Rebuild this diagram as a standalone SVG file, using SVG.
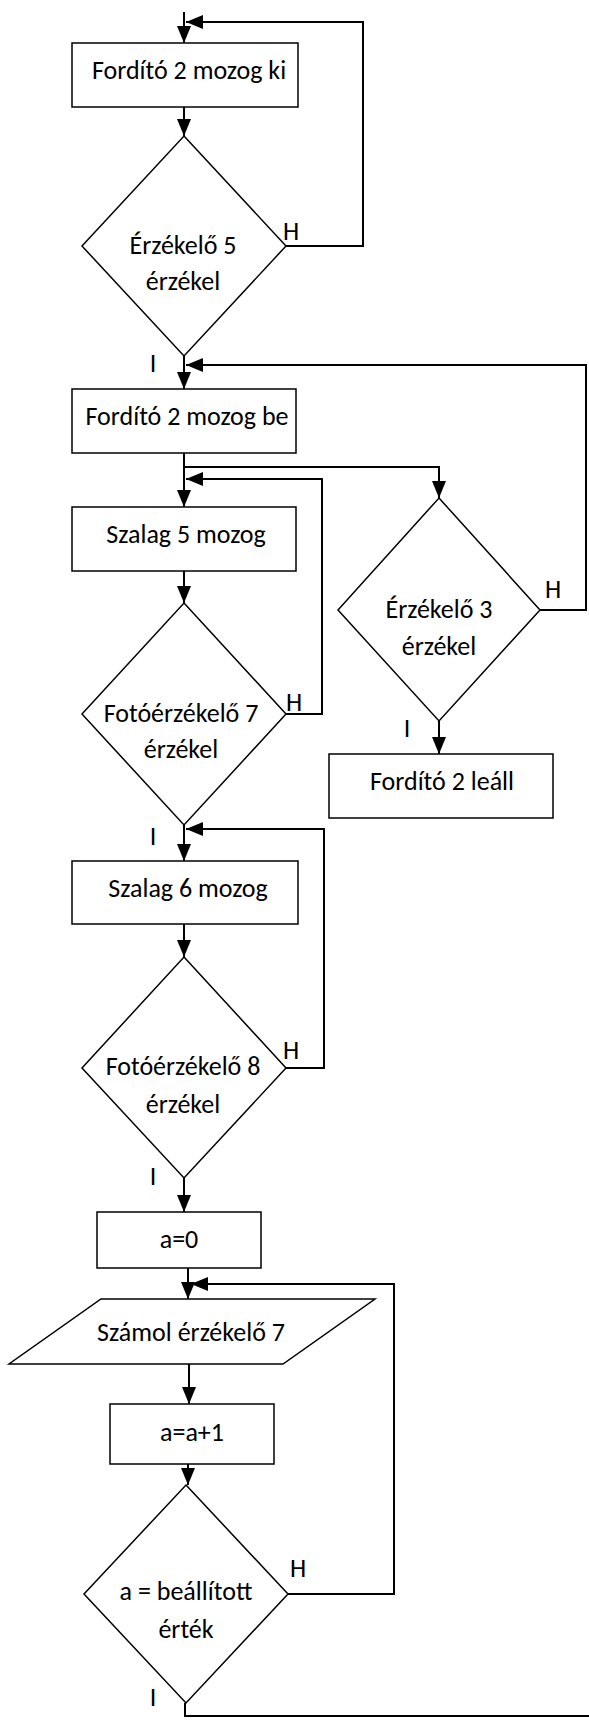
<svg xmlns="http://www.w3.org/2000/svg" width="589" height="1720" viewBox="0 0 589 1720">
<style>
.shape{fill:#fff;stroke:#000;stroke-width:1.5}
.conn{fill:none;stroke:#000;stroke-width:2;marker-end:url(#arr)}
.plain{fill:none;stroke:#000;stroke-width:2}
text{font-family:Carlito,Calibri,Lato,"Liberation Sans",sans-serif;font-size:26px;fill:#000}
.c{text-anchor:middle}
</style>
<defs>
<marker id="arr" viewBox="0 0 17 14" refX="17" refY="7" markerWidth="17" markerHeight="14" markerUnits="userSpaceOnUse" orient="auto">
<path d="M0,0 L17,7 L0,14 z" fill="#000"/>
</marker>
</defs>
<rect width="589" height="1720" fill="#fff"/>
<g id="connectors">
<path class="conn" d="M184,12 V43"/>
<path class="conn" d="M286,246 H363 V22 H186"/>
<path class="conn" d="M184,107 V136"/>
<path class="conn" d="M184,356 V389"/>
<path class="conn" d="M540,610 H586 V365 H186"/>
<path class="conn" d="M184,453 V507"/>
<path class="conn" d="M184,467 H439 V498"/>
<path class="conn" d="M286,714 H322 V479 H186"/>
<path class="conn" d="M184,571 V603"/>
<path class="conn" d="M184,825 V861"/>
<path class="conn" d="M439,721 V754"/>
<path class="conn" d="M286,1068 H324 V829 H186"/>
<path class="conn" d="M184,924 V957"/>
<path class="conn" d="M184,1178 V1212"/>
<path class="conn" d="M188,1268 V1299"/>
<path class="conn" d="M288,1594 H394 V1284 H191"/>
<path class="conn" d="M189,1364 V1404"/>
<path class="conn" d="M188,1464 V1485"/>
<path class="plain" d="M185,1703 V1716 H589"/>
</g>
<g id="n1"><rect class="shape" x="72" y="43" width="226" height="64"/><text class="c" x="189" y="79">Fordító 2 mozog ki</text></g>
<g id="d1"><polygon class="shape" points="184,136 286,246 184,356 82,246"/><text class="c" x="183" y="254">Érzékelő 5</text><text class="c" x="183" y="290">érzékel</text><text x="283" y="240">H</text><text class="c" x="153" y="372">I</text></g>
<g id="n2"><rect class="shape" x="72" y="389" width="224" height="64"/><text class="c" x="187" y="425">Fordító 2 mozog be</text></g>
<g id="n3"><rect class="shape" x="72" y="507" width="224" height="64"/><text class="c" x="186" y="543">Szalag 5 mozog</text></g>
<g id="d2"><polygon class="shape" points="184,603 286,714 184,825 82,714"/><text class="c" x="181" y="722">Fotóérzékelő 7</text><text class="c" x="181" y="758">érzékel</text><text x="286" y="711">H</text><text class="c" x="153" y="845">I</text></g>
<g id="d3"><polygon class="shape" points="439,498 540,610 439,721 338,610"/><text class="c" x="439" y="618">Érzékelő 3</text><text class="c" x="439" y="655">érzékel</text><text x="545" y="598">H</text><text class="c" x="407" y="737">I</text></g>
<g id="n4"><rect class="shape" x="329" y="754" width="224" height="64"/><text class="c" x="442" y="790">Fordító 2 leáll</text></g>
<g id="n5"><rect class="shape" x="72" y="861" width="226" height="63"/><text class="c" x="188" y="897">Szalag 6 mozog</text></g>
<g id="d4"><polygon class="shape" points="184,957 286,1068 184,1178 82,1068"/><text class="c" x="183" y="1075">Fotóérzékelő 8</text><text class="c" x="183" y="1113">érzékel</text><text x="283" y="1059">H</text><text class="c" x="153" y="1185">I</text></g>
<g id="n6"><rect class="shape" x="97" y="1212" width="164" height="56"/><text class="c" x="179" y="1248">a=0</text></g>
<g id="n7"><polygon class="shape" points="101,1299 375,1299 283,1364 9,1364"/><text class="c" x="191" y="1341">Számol érzékelő 7</text></g>
<g id="n8"><rect class="shape" x="110" y="1404" width="164" height="60"/><text class="c" x="192" y="1441">a=a+1</text></g>
<g id="d5"><polygon class="shape" points="186,1485 288,1594 186,1703 84,1594"/><text class="c" x="186" y="1600">a = beállított</text><text class="c" x="186" y="1638">érték</text><text x="290" y="1577">H</text><text class="c" x="153" y="1706">I</text></g>
</svg>
